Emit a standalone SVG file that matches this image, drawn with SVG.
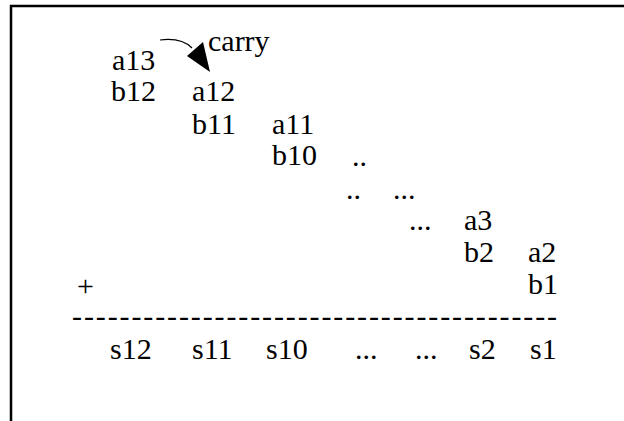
<svg xmlns="http://www.w3.org/2000/svg" width="624" height="421" viewBox="0 0 624 421">
<style>
text{font-family:"Liberation Serif","Times New Roman",serif;font-size:30px;fill:#000}
.frame{stroke:#000;stroke-width:2.5;fill:none}
</style>
<rect width="624" height="421" fill="#fff"/>
<path class="frame" d="M11,421 V6 H624"/>
<g id="terms">
<text x="112" y="70">a13</text>
<text x="111" y="101">b12</text>
<text x="192" y="101">a12</text>
<text x="192" y="134">b11</text>
<text x="272" y="134">a11</text>
<text x="272" y="165">b10</text>
<text x="352" y="166">..</text>
<text x="346" y="199">..</text>
<text x="393" y="199">...</text>
<text x="409" y="230">...</text>
<text x="464" y="230">a3</text>
<text x="464" y="262">b2</text>
<text x="528" y="262">a2</text>
<text x="528" y="294">b1</text>
<text x="77" y="296" fill="#333">+</text>
<text x="72" y="326" textLength="485" lengthAdjust="spacing">-----------------------------------------</text>
<text x="110" y="359">s12</text>
<text x="192" y="359">s11</text>
<text x="266" y="359">s10</text>
<text x="355" y="359">...</text>
<text x="415" y="359">...</text>
<text x="469" y="359">s2</text>
<text x="530" y="359">s1</text>
<text x="208" y="51">carry</text>
</g>
<g id="connectors">
<path d="M160,40 C176,38 186,42 192,48" fill="none" stroke="#000" stroke-width="1.2"/>
<path d="M187,56 L203,42 L210,72 z" fill="#000"/>
</g>
</svg>
